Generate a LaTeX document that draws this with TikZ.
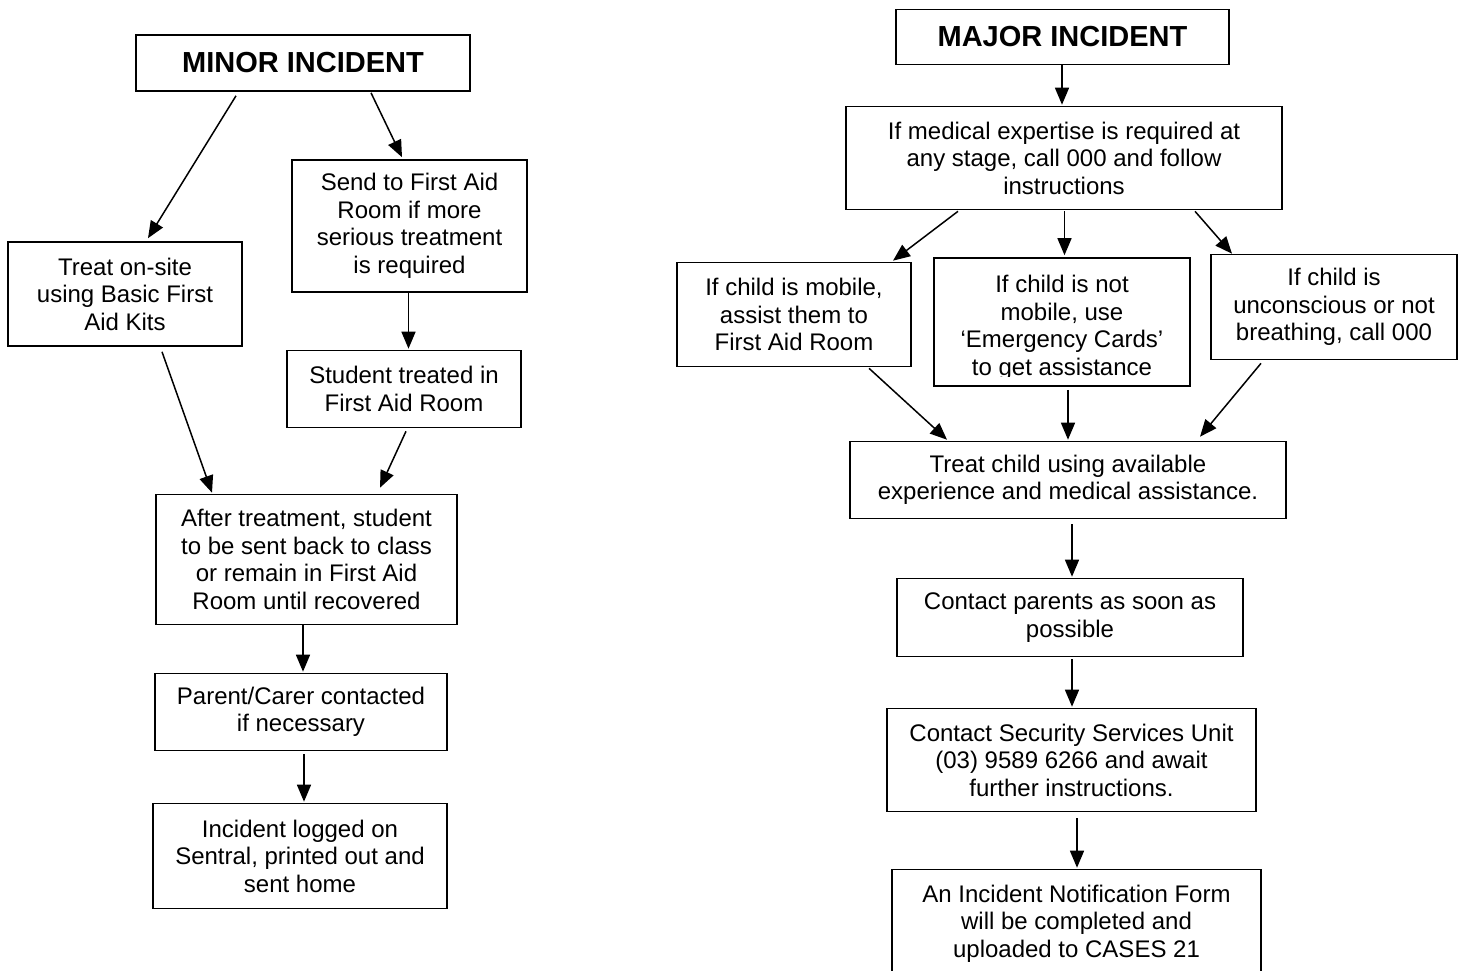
\documentclass[tikz,border=0pt]{standalone}
\usepackage{fontspec}
\setmainfont{Liberation Sans}
\usetikzlibrary{arrows.meta}
\begin{document}
\begin{tikzpicture}[x=1pt,y=-1pt,
  box/.style={draw=black,line width=1.6pt,inner sep=0pt,align=center,
    font=\fontsize{24pt}{27.5pt}\selectfont},
  titlebox/.style={box,font=\fontsize{29pt}{33pt}\selectfont\bfseries},
  plain/.style={inner sep=0pt,align=center,font=\fontsize{24pt}{27.5pt}\selectfont},
  arr/.style={line width=1.5pt,-{Triangle[length=17pt,width=14pt]}}]
\clip (0,0) rectangle (1464,970);
\fill[white] (0,0) rectangle (1464,970);
% ---------- MINOR ----------
\node[titlebox,minimum width=334pt,minimum height=56pt] (minor) at (303,63) {MINOR INCIDENT};
\node[box,minimum width=234pt,minimum height=104pt] (treat) at (125,294) {Treat on-site\\using Basic First\\Aid Kits};
\node[box,minimum width=235pt,minimum height=132pt] (send) at (409.5,226) {Send to First Aid\\Room if more\\serious treatment\\is required};
\node[box,minimum width=234pt,minimum height=77pt] (student) at (404,389) {Student treated in\\First Aid Room};
\node[box,minimum width=301pt,minimum height=130pt] (after) at (306.5,559.5) {After treatment, student\\to be sent back to class\\or remain in First Aid\\Room until recovered};
\node[box,minimum width=292pt,minimum height=77pt] (parent) at (301,712) {Parent/Carer contacted\\if necessary};
\node[box,minimum width=294pt,minimum height=105pt] (logged) at (300,856) {Incident logged on\\Sentral, printed out and\\sent home};
\draw[arr] ([xshift=-67pt,yshift=-4pt]minor.south) -- ([xshift=23pt,yshift=3pt]treat.north);
\draw[arr] ([xshift=68pt,yshift=-1pt]minor.south) -- ([xshift=-7.5pt,yshift=2pt]send.north);
\draw[arr] ([xshift=-1pt]send.south) -- ([xshift=-1pt,yshift=1pt]send.south |- student.north);
\draw[arr] ([xshift=37pt,yshift=-5pt]treat.south) -- ([xshift=-94.5pt,yshift=1pt]after.north);
\draw[arr] ([xshift=2pt,yshift=-3pt]student.south) -- ([xshift=73.5pt,yshift=6pt]after.north);
\draw[arr] ([xshift=-3.5pt]after.south) -- ([xshift=-3.5pt,yshift=1pt]after.south |- parent.north);
\draw[arr] ([xshift=3pt,yshift=-3pt]parent.south) -- ([xshift=3pt,yshift=1pt]parent.south |- logged.north);
% ---------- MAJOR ----------
\node[titlebox,minimum width=333pt,minimum height=55pt] (major) at (1062.5,37) {MAJOR INCIDENT};
\node[box,minimum width=436pt,minimum height=103pt] (medical) at (1064,158) {If medical expertise is required at\\any stage, call 000 and follow\\instructions};
\node[box,minimum width=234pt,minimum height=104pt] (mobile) at (794,314.5) {If child is mobile,\\assist them to\\First Aid Room};
\node[box,minimum width=256pt,minimum height=128pt] (notmob) at (1062,322) {};
\begin{scope}
\clip (934,258) rectangle (1190,376);
\node[plain] (notmobtext) at (1062,328) {If child is not\\mobile, use\\‘Emergency Cards’\\to get assistance};
\end{scope}
\node[box,minimum width=246pt,minimum height=105pt] (uncon) at (1334,307) {If child is\\unconscious or not\\breathing, call 000};
\node[box,minimum width=436pt,minimum height=77pt] (treatchild) at (1068,480) {Treat child using available\\experience and medical assistance.};
\node[box,minimum width=346pt,minimum height=78pt] (parents) at (1070,617.5) {Contact parents as soon as\\possible};
\node[box,minimum width=369pt,minimum height=103pt] (security) at (1071.5,760) {Contact Security Services Unit\\(03) 9589 6266 and await\\further instructions.};
\node[box,minimum width=369pt,minimum height=108pt] (form) at (1076.5,923.5) {An Incident Notification Form\\will be completed and\\uploaded to CASES 21};
\draw[arr] ([xshift=-0.5pt]major.south) -- ([xshift=-2pt,yshift=1pt]medical.north);
\draw[arr] ([xshift=-106pt,yshift=-1pt]medical.south) -- ([xshift=99pt,yshift=1pt]mobile.north);
\draw[arr] ([xshift=0.5pt,yshift=-1pt]medical.south) -- ([xshift=2.5pt,yshift=2pt]notmob.north);
\draw[arr] ([xshift=131pt,yshift=-1pt]medical.south) -- ([xshift=-102pt,yshift=0pt]uncon.north);
\draw[arr] ([xshift=75pt,yshift=-1pt]mobile.south) -- ([xshift=-121pt,yshift=1pt]treatchild.north);
\draw[arr] ([xshift=6pt,yshift=-3pt]notmob.south) -- ([xshift=0pt,yshift=1pt]treatchild.north);
\draw[arr] ([xshift=-73pt,yshift=-3pt]uncon.south) -- ([xshift=132pt,yshift=4pt]treatchild.north);
\draw[arr] ([xshift=4pt,yshift=-5pt]treatchild.south) -- ([xshift=2pt,yshift=1pt]parents.north);
\draw[arr] ([xshift=2pt,yshift=-2pt]parents.south) -- ([xshift=0.5pt,yshift=1pt]security.north);
\draw[arr] ([xshift=5.5pt,yshift=-6pt]security.south) -- ([xshift=0.5pt,yshift=1pt]form.north);
\end{tikzpicture}
\end{document}
